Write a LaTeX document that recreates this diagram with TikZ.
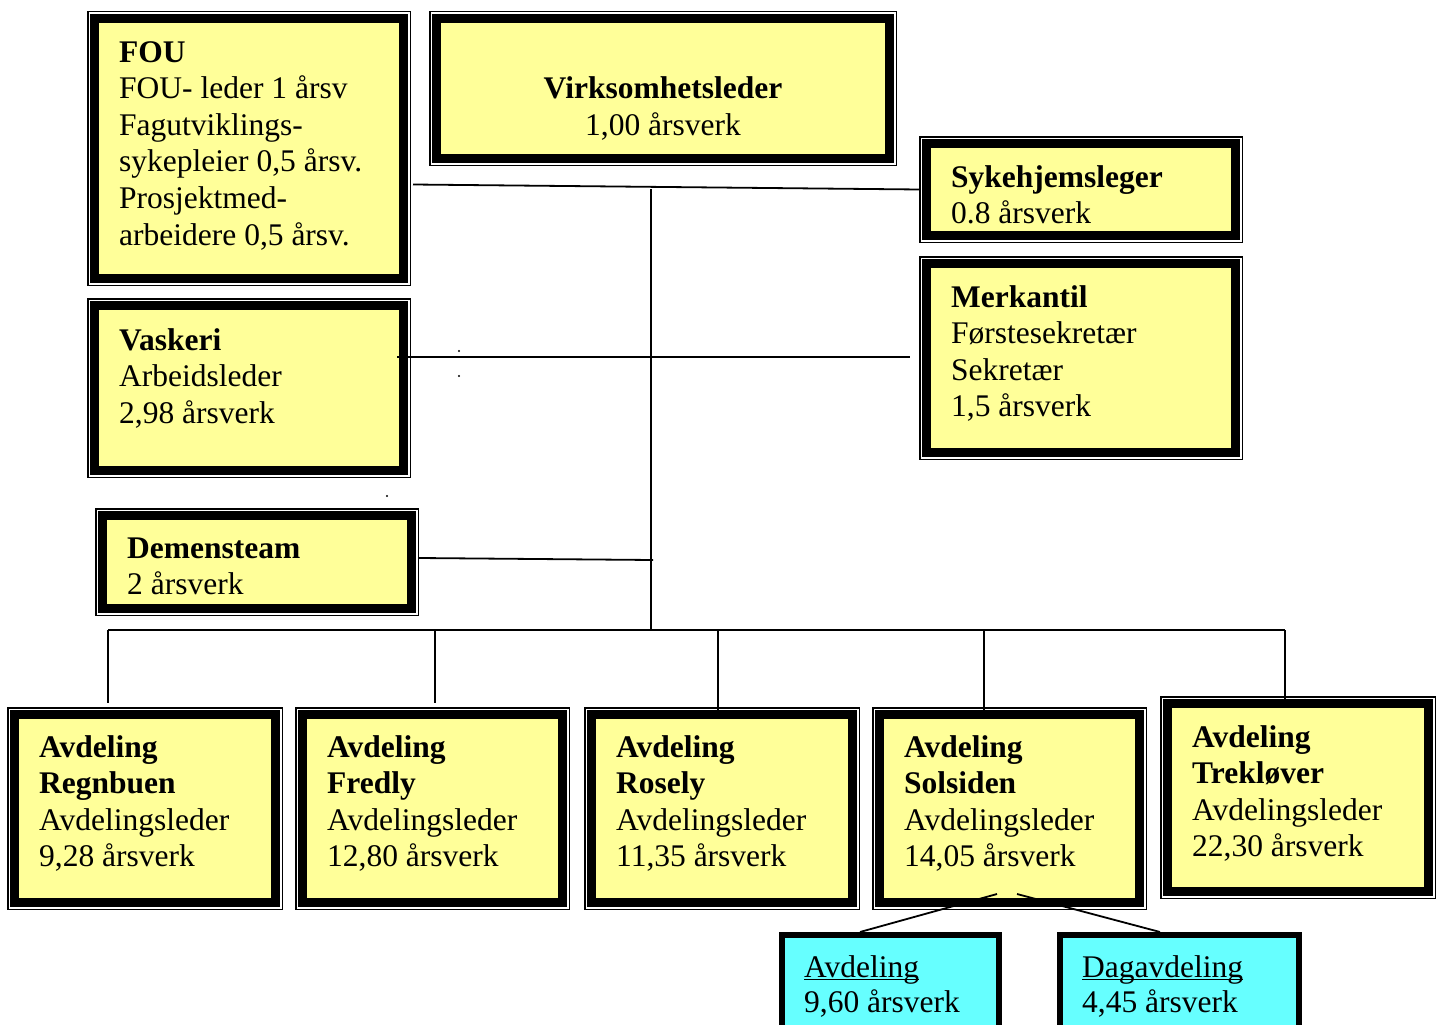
\documentclass[tikz,border=0pt]{standalone}
\usepackage{fontspec}
\setmainfont{Liberation Serif}
\usetikzlibrary{calc}
\definecolor{boxyellow}{HTML}{FFFF99}
\definecolor{boxcyan}{HTML}{66FFFF}
\newcommand\myul[1]{\setbox0\hbox{#1}\rlap{\rule[-3pt]{\wd0}{1.4pt}}\box0}
\newcommand\ybx[5]{%
  \node[ybox, minimum width={(#4)-(#2)-15}, minimum height={(#5)-(#3)-15}] (#1) at ({((#2)+(#4))/2},{((#3)+(#5))/2}) {};
  \draw[frame] ([shift={(-6.75,-6.75)}]#1.north west) rectangle ([shift={(6.75,6.75)}]#1.south east);
}
\newcommand\cbx[5]{%
  \node[cbox, minimum width={(#4)-(#2)-6}, minimum height={(#5)-(#3)-6}] (#1) at ({((#2)+(#4))/2},{((#3)+(#5))/2}) {};
}
\begin{document}
\begin{tikzpicture}[x=1pt,y=-1pt,
  ybox/.style={draw=black, line width=8.5pt, fill=boxyellow, rectangle, inner sep=0pt, outer sep=0pt},
  cbox/.style={draw=black, line width=6pt, fill=boxcyan, rectangle, inner sep=0pt, outer sep=0pt},
  frame/.style={draw=black, line width=1.5pt},
  lbl/.style={anchor=base west, inner sep=0pt, align=left, font=\fontsize{31.5}{36.6}\selectfont},
  clbl/.style={anchor=base west, inner sep=0pt, align=left, font=\fontsize{31.5}{35}\selectfont},
  conn/.style={draw=black, line width=1.8pt},
]
\useasboundingbox (0,0) rectangle (1443,1025);

% boxes
\ybx{fou}{87}{11}{411}{286}
\ybx{virk}{429}{11}{897}{166}
\ybx{syke}{919}{136}{1243}{243}
\ybx{merk}{919}{256}{1243}{460}
\ybx{vask}{87}{298}{411}{478}
\ybx{dem}{95}{508}{419}{616}
\ybx{regn}{7}{707}{283}{910}
\ybx{fred}{295}{707}{570}{910}
\ybx{rose}{584}{707}{860}{910}
\ybx{sols}{872}{707}{1147}{910}
\ybx{trek}{1160}{696}{1436}{899}
\cbx{avd}{779}{932}{1002}{1060}
\cbx{dag}{1057}{932}{1302}{1060}

% texts (anchor base = baseline of the last line)
\node[lbl] (fou-t) at (119,245) {\textbf{FOU}\\FOU- leder 1 årsv\\Fagutviklings-\\sykepleier 0,5 årsv.\\Prosjektmed-\\arbeidere 0,5 årsv.};
\node[anchor=base, inner sep=0pt, align=center, font=\fontsize{31.5}{37}\selectfont] (virk-t) at (663,135) {\textbf{Virksomhetsleder}\\1,00 årsverk};
\node[lbl] (syke-t) at (951,223.6) {\textbf{Sykehjemsleger}\\0.8 årsverk};
\node[lbl] (merk-t) at (951,416.8) {\textbf{Merkantil}\\Førstesekretær\\Sekretær\\1,5 årsverk};
\node[lbl] (vask-t) at (119,423.2) {\textbf{Vaskeri}\\Arbeidsleder\\2,98 årsverk};
\node[lbl] (dem-t) at (127,594.6) {\textbf{Demensteam}\\2 årsverk};
\node[lbl] (regn-t) at (39,866.8) {\textbf{Avdeling}\\\textbf{Regnbuen}\\Avdelingsleder\\9,28 årsverk};
\node[lbl] (fred-t) at (327,866.8) {\textbf{Avdeling}\\\textbf{Fredly}\\Avdelingsleder\\12,80 årsverk};
\node[lbl] (rose-t) at (616,866.8) {\textbf{Avdeling}\\\textbf{Rosely}\\Avdelingsleder\\11,35 årsverk};
\node[lbl] (sols-t) at (904,866.8) {\textbf{Avdeling}\\\textbf{Solsiden}\\Avdelingsleder\\14,05 årsverk};
\node[lbl] (trek-t) at (1192,856.8) {\textbf{Avdeling}\\\textbf{Trekløver}\\Avdelingsleder\\22,30 årsverk};
\node[clbl] (avd-t) at (804,1012) {\myul{Avdeling}\\9,60 årsverk};
\node[clbl] (dag-t) at (1082,1012) {\myul{Dagavdeling}\\4,45 årsverk};

% junction coordinates
\coordinate (top) at (651,189);
\coordinate (hub) at (651,630);
\coordinate (demj) at (653,560);
\coordinate (busL) at (108,630);
\coordinate (busR) at (1285,630);
\coordinate (b2) at (435,630);
\coordinate (b3) at (718,630);
\coordinate (b4) at (984,630);

% connectors
\draw[conn] ($(fou.east)+(9.5,36)$) -- ($(syke.west)+(-7,0)$);
\draw[conn] (top) -- (hub);
\draw[conn] ($(vask.east)+(-6.5,-31)$) -- ($(merk.west)+(-16.5,-1)$);
\draw[conn] ($(dem.east)+(7.5,-4)$) -- (demj);
\draw[conn] (busL) -- (busR);
\draw[conn] (busL) -- ($(regn.north)+(-37,-11.5)$);
\draw[conn] (b2) -- ($(fred.north)+(2.5,-11.5)$);
\draw[conn] (b3) -- ($(rose.north)+(-4,-3.5)$);
\draw[conn] (b4) -- ($(sols.north)+(-25.5,-3.5)$);
\draw[conn] (busR) -- ($(trek.north)+(-13,-3.5)$);
\draw[conn] ($(sols.south)+(-12.5,-8.5)$) -- ($(avd.north)+(-30.5,-3)$);
\draw[conn] ($(sols.south)+(7.5,-8.5)$) -- ($(dag.north)+(-19.5,-3)$);

% stray dots
\fill (459,351) circle (1.2);
\fill (459,376) circle (1.2);
\fill (387,496) circle (1.2);
\end{tikzpicture}
\end{document}
